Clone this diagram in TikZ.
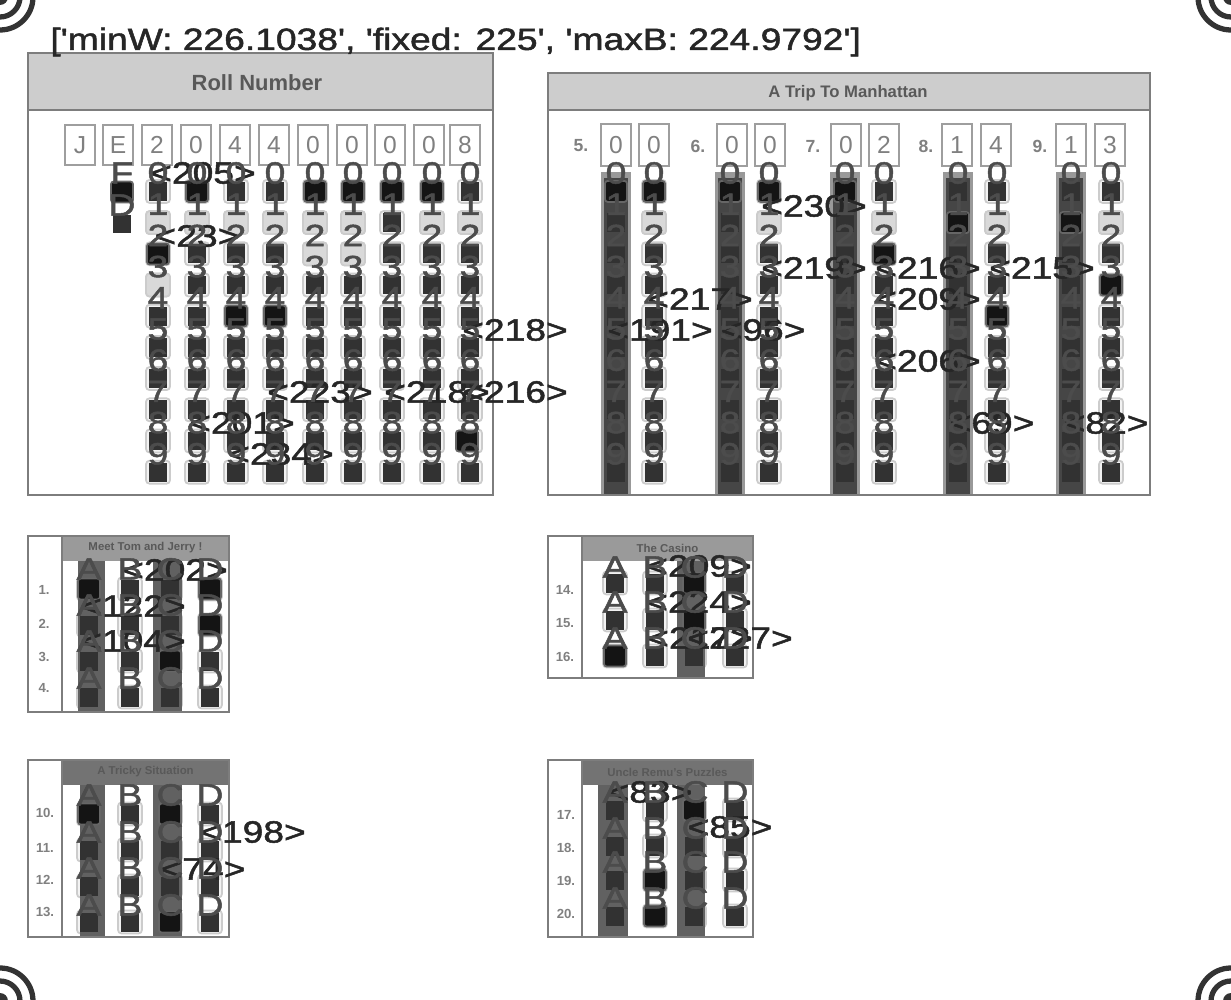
\documentclass[tikz,border=0pt]{standalone}
\usepackage{fontspec}
\setmainfont{Liberation Sans}
\newfontfamily\cvfont[FakeStretch=1.21,FakeBold=1.6,Ligatures=TeXOff]{Liberation Sans}
\usetikzlibrary{positioning}
\definecolor{sheetgray}{RGB}{125,125,125}
\definecolor{headgray}{RGB}{205,205,205}
\definecolor{headdark}{RGB}{115,115,115}
\definecolor{bandgray}{RGB}{70,70,70}
\definecolor{markgray}{RGB}{50,50,50}
\newcommand{\apos}{\char39\relax}

\begin{document}
\begin{tikzpicture}[x=0.02cm, y=-0.02cm,
  panel/.style={draw=sheetgray, line width=1.1pt},
  bub/.style={rounded corners=2pt, draw=black!20, fill=black!5, line width=1pt, minimum width=0.48cm, minimum height=0.46cm, inner sep=0pt},
  palebub/.style={bub, fill=black!15},
  sq/.style={fill=markgray, inner sep=0pt, minimum width=0.37cm, minimum height=0.38cm},
  blk/.style={rounded corners=1.5pt, fill=black!92, draw=black!60, line width=1pt, inner sep=0pt, minimum width=0.44cm, minimum height=0.42cm},
  idbox/.style={draw=black!38, line width=0.9pt, fill=white, minimum width=0.6cm, minimum height=0.8cm, inner sep=0pt, text=black!50, font=\fontsize{14}{14}\selectfont},
  dig/.style={inner sep=0pt, text=black!70, font=\cvfont\fontsize{17.5}{17.5}\selectfont},
  val/.style={inner sep=0pt, text=black!85, font=\cvfont\fontsize{17.5}{17.5}\selectfont},
  sheettitle/.style={inner sep=0pt, text=black!65, font=\bfseries\fontsize{9.5}{9.5}\selectfont},
  qnum/.style={inner sep=0pt, text=black!50, font=\bfseries\fontsize{7.5}{7.5}\selectfont},
  ring/.style={draw=black!80, line width=3pt}]
\useasboundingbox (0,0) rectangle (1231,1000);
\fill[white] (0,0) rectangle (1231,1000);
% Corner markers
\foreach \mx/\my in {0/-3, 1231/-3, 0/1001, 1231/1001}{
  \draw[ring] (\mx,\my) circle (33);
  \draw[ring] (\mx,\my) circle (20);
  \fill[black!80] (\mx,\my) circle (8);
}
% Roll number sheet
\fill[headgray] (28,53) rectangle (493,110);
\draw[panel] (28,53) rectangle (493,495);
\draw[panel] (28,110) -- (493,110);
\node[sheettitle, font=\bfseries\fontsize{12.5}{12.5}\selectfont] (rolltitle) at (257,83) {Roll Number};
\foreach \ix/\ich [count=\i] in {80/J,118/E,157/2,196/0,235/4,274/4,313/0,352/0,390/0,429/0,465/8}
  \node[idbox] (roll\i) at (\ix,145) {\ich};
\foreach \cx [count=\c] in {158,197,236,275,315,353,392,432,470}{
  \foreach \k in {0,...,9}{
    \node[bub] (rb\c-\k) at (\cx,{191.4+31.2*\k}) {};
    \node[sq] (rs\c-\k) at (\cx,{191.4+31.2*\k}) {};
  }
}
% unmarked rows
\foreach \cx in {158,197,236,275,315,353,432,470}
  \node[palebub] at (\cx,222.6) {};
\foreach \cx/\cy in {315/254,353/254,158/285}
  \node[palebub] at (\cx,\cy) {};
\foreach \cx/\cy in {197/191.4,315/191.4,353/191.4,392/191.4,432/191.4,158/254,236/316,275/316,467/441}
  \node[blk] at (\cx,\cy) {};
\node[blk] (fa) at (122,192) {};
\node[sq] (fb) at (122,224) {};
% Trip sheet
\fill[headgray] (548,73) rectangle (1150,110);
\foreach \bx in {616,730,845,958,1071}{
  \fill[bandgray!55] (\bx-15,172) rectangle (\bx+15,495);
  \fill[bandgray] (\bx-12,178) rectangle (\bx+12,495);
}
\draw[panel] (548,73) rectangle (1150,495);
\draw[panel] (548,110) -- (1150,110);
\node[sheettitle] (triptitle) at (848,93) {A Trip To Manhattan};
\foreach \qx/\qn in {581/5.,698/6.,813/7.,926/8.,1040/9.}
  \node[qnum, font=\bfseries\fontsize{10}{10}\selectfont] (q\qn) at (\qx,146) {\qn};
\foreach \ix/\ich [count=\i] in {616/0,654/0,732/0,770/0,846/0,884/2,957/1,996/4,1071/1,1110/3}
  \node[idbox, minimum height=0.84cm] (trip\i) at (\ix,145) {\ich};
\foreach \cx [count=\c] in {654,769,884,997,1111}{
  \foreach \k in {0,...,9}
    \node[bub] (tb\c-\k) at (\cx,{191.4+31.2*\k}) {};
}
\foreach \cx [count=\c] in {616,654,730,769,845,884,958,997,1071,1111}{
  \foreach \k in {0,...,9}
    \node[sq] (ts\c-\k) at (\cx,{191.4+31.2*\k}) {};
}
\foreach \cx in {654,769,884,997,1111}
  \node[palebub] at (\cx,222.6) {};
\foreach \cx/\cy in {616/191.4,654/191.4,730/191.4,769/191.4,845/191.4,958/222.6,1071/222.6,884/254,1111/285,997/316}
  \node[blk] at (\cx,\cy) {};
% Small sheets
\foreach \xa/\ya/\xb/\yb/\xl/\hc/\ttl in {
  28/536/229/712/62/headgray!75!black/Meet Tom and Jerry !,
  548/536/753/678/582/headgray!75!black/The Casino,
  28/760/229/937/62/headdark/A Tricky Situation,
  548/760/753/937/582/headdark/Uncle Remu's Puzzles}{
  \fill[\hc] (\xl,\ya) rectangle (\xb,\ya+25);
  \node[sheettitle, font=\bfseries\fontsize{6.5}{6.5}\selectfont] (head\xa-\ya) at ({(\xl+\xb)/2},\ya+12) {\ttl};
}
% pale bubbles first, the bands go over them
\foreach \sx in {89,130,170,210}{
  \foreach \sy in {589,625,661,697,814,850,886,922}
    \node[bub] (sb\sx-\sy) at (\sx,\sy) {};
}
\foreach \sx in {615,655,694,735}{
  \foreach \sy in {583,620,656,810,846,880,916}
    \node[bub] (sb\sx-\sy) at (\sx,\sy) {};
}
\foreach \bxa/\bxb/\bya/\byb in {78/105/561/712,153/182/561/712,80/105/785/937,153/182/785/937,677/705/561/678,598/628/785/937,677/705/785/937}
  \fill[black!62] (\bxa,\bya) rectangle (\bxb,\byb);
\foreach \xa/\ya/\xb/\yb/\xl in {28/536/229/712/62,548/536/753/678/582,28/760/229/937/62,548/760/753/937/582}{
  \draw[panel] (\xa,\ya) rectangle (\xb,\yb);
  \draw[panel] (\xl,\ya) -- (\xl,\yb);
}
\foreach \qx/\qy/\qn in {44/590/1.,44/624/2.,44/657/3.,44/688/4.,45/813/10.,45/848/11.,45/880/12.,45/912/13.,565/590/14.,565/623/15.,565/657/16.,566/815/17.,566/848/18.,566/881/19.,566/914/20.}
  \node[qnum] (n\qn) at (\qx,\qy) {\qn};
\foreach \sx in {89,130,170,210}{
  \foreach \sy in {589,625,661,697,814,850,886,922}
    \node[sq] (ss\sx-\sy) at (\sx,\sy) {};
}
\foreach \sx in {615,655,694,735}{
  \foreach \sy in {583,620,656,810,846,880,916}
    \node[sq] (ss\sx-\sy) at (\sx,\sy) {};
}
\foreach \cx/\cy in {210/589,210/625,170/661,89/589,170/814,89/814,170/922,694/583,694/620,615/656,694/810,655/880,655/916}
  \node[blk] at (\cx,\cy) {};
% Scores
\foreach \tx/\ty/\tv in {203/173/205,197/236/23,515/330/218,320/392/223,437/392/218,515/392/216,242/423/201,281/454/234,
  814/206/230,814/268/219,928/268/216,1042/268/215,700/299/217,928/299/209,660/330/191,763/330/96,928/361/206,992/423/69,1106/423/82,
  175/570/202,133/606/122,133/641/104,253/832/198,203/869/74,
  699/566/209,699/602/224,700/638/217,740/638/227,650/792/83,730/827/85}
  \node[val] (v\tx-\ty) at (\tx,\ty) {<\tv>};
% Letters and digits on top
\foreach \cx [count=\c] in {158,197,236,275,315,353,392,432,470,616,654,730,769,845,884,958,997,1071,1111}{
  \foreach \k in {0,...,9}
    \node[dig] (dg\c-\k) at (\cx,{173+31.2*\k}) {\k};
}
\node[dig] (ff) at (122,173) {F};
\node[dig] (fd) at (122,205) {D};
\foreach \ly in {569,605,641,678}
  \foreach \sx/\sl in {89/A,130/B,170/C,210/D}
    \node[dig] (la\sl\ly) at (\sx,\ly) {\sl};
\foreach \ly in {795,832,868,905}
  \foreach \sx/\sl in {89/A,130/B,170/C,210/D}
    \node[dig] (lb\sl\ly) at (\sx,\ly) {\sl};
\foreach \ly in {567,602,638}
  \foreach \sx/\sl in {615/A,655/B,694/C,735/D}
    \node[dig] (lc\sl\ly) at (\sx,\ly) {\sl};
\foreach \ly in {792,828,862,898}
  \foreach \sx/\sl in {615/A,655/B,695/C,735/D}
    \node[dig] (ld\sl\ly) at (\sx,\ly) {\sl};
% Result line
\node[val, anchor=west] (result) at (50,42) {[\apos minW: 226.1038\apos, \apos fixed: 225\apos, \apos maxB: 224.9792\apos]};
\end{tikzpicture}
\end{document}
